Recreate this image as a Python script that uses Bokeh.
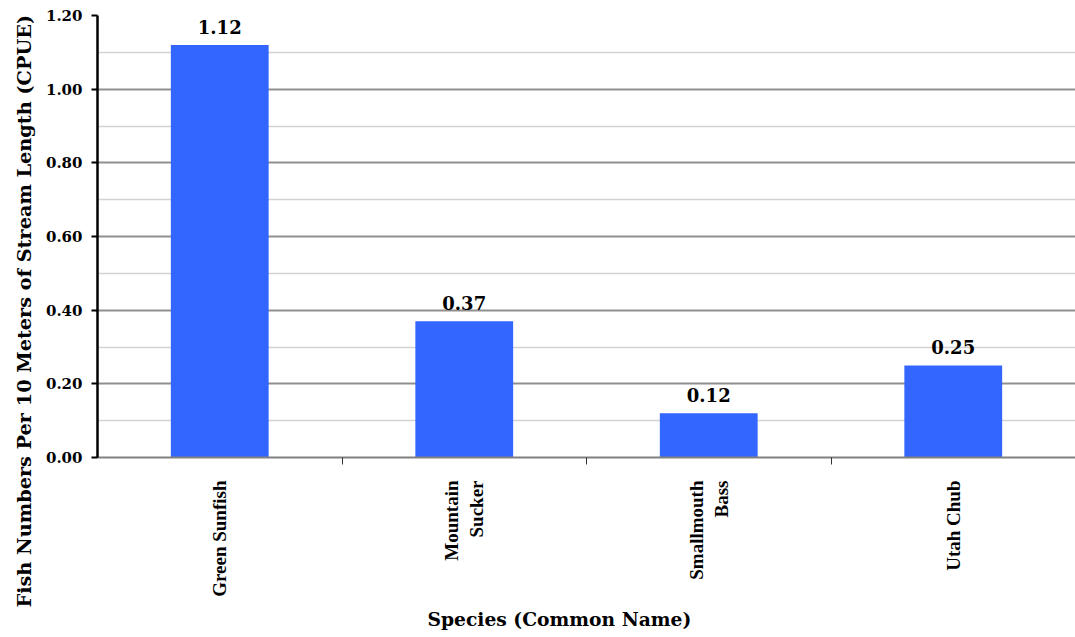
import math
from bokeh.plotting import figure
from bokeh.models import (ColumnDataSource, Range1d, FixedTicker,
                          NumeralTickFormatter, Title)
from bokeh.core.properties import value
from bokeh.embed import file_html
from bokeh.resources import INLINE

# Catch per unit effort by species
species = ["Green Sunfish", "Mountain\nSucker", "Smallmouth\nBass", "Utah Chub"]
cpue = [1.12, 0.37, 0.12, 0.25]
y_major_ticks = [0.0, 0.2, 0.4, 0.6, 0.8, 1.0, 1.2]
y_minor_ticks = [0.1, 0.3, 0.5, 0.7, 0.9, 1.1]
y_title = "Fish Numbers Per 10 Meters of Stream Length (CPUE)"
x_title = "Species (Common Name)"

NUM_FONT = "DejaVu Serif"
CAT_FONT = "Liberation Serif"

n = len(species)
pos = list(range(n))            # slot index of each species
src = ColumnDataSource(dict(
    pos=pos,
    cpue=cpue,
    label=["%.2f" % v for v in cpue],
))

p = figure(
    x_range=Range1d(-0.5, n - 0.5),
    y_range=Range1d(0, 1.2),
    width=1075, height=637,
    output_backend="svg", toolbar_location=None,
    min_border_left=97, min_border_top=15, min_border_right=0,
    min_border_bottom=180,
)
p.outline_line_color = None
p.background_fill_color = "white"
p.xgrid.visible = False

# y axis
yticker = FixedTicker(ticks=y_major_ticks, minor_ticks=y_minor_ticks)
p.yaxis.ticker = yticker
p.yaxis.formatter = NumeralTickFormatter(format="0.00")
p.yaxis.axis_line_color = "black"
p.yaxis.axis_line_width = 2.5
p.yaxis.major_tick_line_color = "black"
p.yaxis.major_tick_line_width = 2
p.yaxis.major_tick_out = 6
p.yaxis.major_tick_in = 0
p.yaxis.minor_tick_line_color = None
p.yaxis.major_label_standoff = 9
p.yaxis.major_label_text_font = NUM_FONT
p.yaxis.major_label_text_font_style = "bold"
p.yaxis.major_label_text_font_size = "15px"
p.yaxis.major_label_text_color = "black"

p.ygrid.ticker = yticker
p.ygrid.grid_line_color = "#8f8f8f"
p.ygrid.grid_line_width = 2
p.ygrid.minor_grid_line_color = "#d2d2d2"
p.ygrid.minor_grid_line_width = 1.5

# x axis: labels at slot centres, tick marks on the slot boundaries
xa = p.xaxis[0]
xa.ticker = FixedTicker(ticks=pos, minor_ticks=[i + 0.5 for i in pos[:-1]])
xa.major_label_overrides = {i: s for i, s in zip(pos, species)}
xa.major_tick_line_color = None
xa.minor_tick_line_color = "#333333"
xa.minor_tick_line_width = 1
xa.minor_tick_out = 7
xa.minor_tick_in = 0
xa.axis_line_color = "#808080"
xa.axis_line_width = 2
xa.major_label_orientation = math.pi / 2
xa.major_label_standoff = 16
xa.major_label_text_font = CAT_FONT
xa.major_label_text_font_style = "bold"
xa.major_label_text_font_size = "19px"
xa.major_label_text_color = "black"

# axis titles as side titles, shifted along the frame with an offset
p.add_layout(Title(
    text=y_title, align="left", offset=-150, standoff=14,
    text_font=NUM_FONT, text_font_style="bold",
    text_font_size="19.3px", text_color="black",
), "left")
p.add_layout(Title(
    text=x_title, align="left", offset=330, standoff=13,
    text_font=NUM_FONT, text_font_style="bold",
    text_font_size="18.7px", text_color="black",
), "below")

# bars and value labels
p.vbar(x="pos", top="cpue", width=0.4, source=src,
       fill_color="#3366FF", line_color=None)
p.text(x="pos", y="cpue", text="label", source=src,
       text_align="center", text_baseline="bottom", y_offset=-11,
       text_font=value(NUM_FONT), text_font_style="bold",
       text_font_size="18px", text_color="black")

open("out.html", "w").write(file_html(p, INLINE))
